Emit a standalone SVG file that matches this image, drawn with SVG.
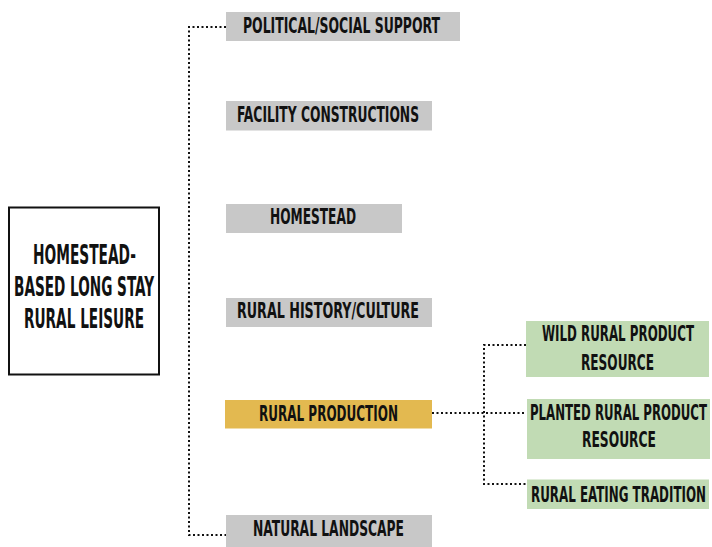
<svg xmlns="http://www.w3.org/2000/svg" width="712" height="547" viewBox="0 0 712 547">
<style>
  .t { font-family: "DejaVu Sans Condensed", "Liberation Sans Narrow", "Liberation Sans", sans-serif; font-weight: bold; font-size: 13px; fill: #111; }
  .big { font-size: 16px; }
  .grey { fill: #c8c8c8; }
  .gold { fill: #e3b950; }
  .green { fill: #c1dbb4; }
  .dot { fill: none; stroke: #111; stroke-width: 2; stroke-dasharray: 2 2.5; }
</style>
<rect width="712" height="547" fill="#ffffff"/>
<g id="connectors">
  <path class="dot" d="M226 27 H189 V535 H226"/>
  <path class="dot" d="M432 413 H526"/>
  <path class="dot" d="M526 345 H484 V484 H527"/>
</g>
<g id="root">
  <rect x="9" y="207.5" width="150" height="167" fill="#fff" stroke="#111" stroke-width="2"/>
  <text class="t big" transform="translate(33,264) scale(1,1.63)" textLength="103" lengthAdjust="spacingAndGlyphs">HOMESTEAD-</text>
  <text class="t big" transform="translate(14,296) scale(1,1.63)" textLength="140" lengthAdjust="spacingAndGlyphs">BASED LONG STAY</text>
  <text class="t big" transform="translate(24,327.5) scale(1,1.63)" textLength="120" lengthAdjust="spacingAndGlyphs">RURAL LEISURE</text>
</g>
<g id="political">
  <rect class="grey" x="226" y="12" width="234" height="29"/>
  <text class="t" transform="translate(243,33) scale(1,1.67)" textLength="197" lengthAdjust="spacingAndGlyphs">POLITICAL/SOCIAL SUPPORT</text>
</g>
<g id="facility">
  <rect class="grey" x="226" y="101" width="206" height="29.5"/>
  <text class="t" transform="translate(237,121.5) scale(1,1.67)" textLength="182" lengthAdjust="spacingAndGlyphs">FACILITY CONSTRUCTIONS</text>
</g>
<g id="homestead">
  <rect class="grey" x="226" y="204" width="176" height="29"/>
  <text class="t" transform="translate(270,224) scale(1,1.67)" textLength="86" lengthAdjust="spacingAndGlyphs">HOMESTEAD</text>
</g>
<g id="history">
  <rect class="grey" x="226" y="298" width="206" height="29"/>
  <text class="t" transform="translate(237,318) scale(1,1.67)" textLength="182" lengthAdjust="spacingAndGlyphs">RURAL HISTORY/CULTURE</text>
</g>
<g id="production">
  <rect class="gold" x="225" y="400" width="207" height="28.5"/>
  <text class="t" transform="translate(259,421) scale(1,1.67)" textLength="139" lengthAdjust="spacingAndGlyphs">RURAL PRODUCTION</text>
</g>
<g id="landscape">
  <rect class="grey" x="226" y="515" width="206" height="32"/>
  <text class="t" transform="translate(253,536) scale(1,1.67)" textLength="151" lengthAdjust="spacingAndGlyphs">NATURAL LANDSCAPE</text>
</g>
<g id="wild">
  <rect class="green" x="526" y="321" width="183" height="56"/>
  <text class="t" transform="translate(542,341) scale(1,1.67)" textLength="152" lengthAdjust="spacingAndGlyphs">WILD RURAL PRODUCT</text>
  <text class="t" transform="translate(581,370) scale(1,1.67)" textLength="73" lengthAdjust="spacingAndGlyphs">RESOURCE</text>
</g>
<g id="planted">
  <rect class="green" x="527" y="399" width="183" height="60"/>
  <text class="t" transform="translate(530,420) scale(1,1.67)" textLength="177" lengthAdjust="spacingAndGlyphs">PLANTED RURAL PRODUCT</text>
  <text class="t" transform="translate(582,447) scale(1,1.67)" textLength="74" lengthAdjust="spacingAndGlyphs">RESOURCE</text>
</g>
<g id="eating">
  <rect class="green" x="527" y="479.5" width="182" height="29.5"/>
  <text class="t" transform="translate(531,501.5) scale(1,1.67)" textLength="175" lengthAdjust="spacingAndGlyphs">RURAL EATING TRADITION</text>
</g>
</svg>
